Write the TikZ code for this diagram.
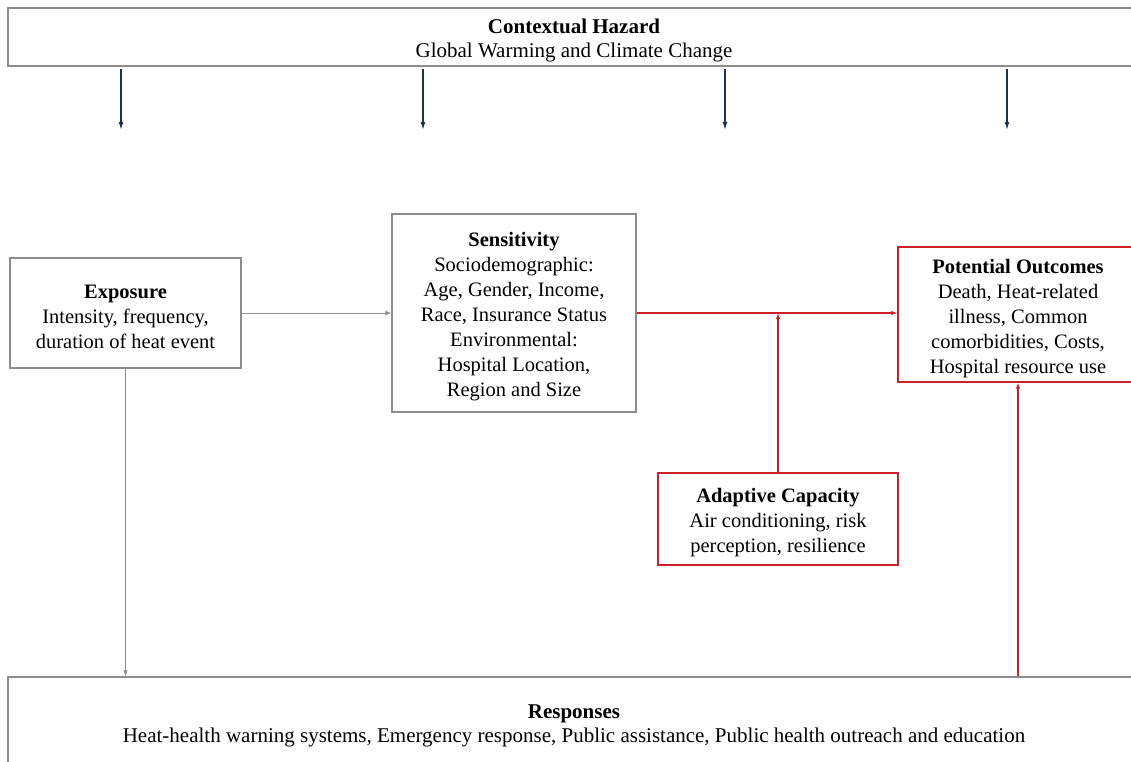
\documentclass[tikz,border=0pt]{standalone}
\usepackage{fontspec}
\setmainfont{Liberation Serif}
\usepackage{tikz}
\usetikzlibrary{arrows.meta,positioning}
\definecolor{boxgray}{RGB}{140,140,140}
\definecolor{linkred}{RGB}{206,32,41}
\definecolor{navy}{RGB}{31,48,80}
\newcommand{\boxtitle}[1]{\rule{0pt}{22pt}\textbf{#1}}

\begin{document}
\begin{tikzpicture}[x=1pt,y=1pt,
  box/.style={draw=boxgray,line width=1.2pt,align=center,inner sep=0pt,font=\fontsize{20.5}{25}\selectfont},
  widebox/.style={box,font=\fontsize{21}{24}\selectfont},
  redbox/.style={box,draw=linkred},
  arr/.style={-{Latex[length=6pt,width=4.5pt]},line width=0.8pt,draw=boxgray,fill=black},
  redarr/.style={-{Latex[length=6pt,width=4.5pt]},line width=1.4pt,draw=linkred,fill=linkred},
  hazarr/.style={-{Latex[length=8pt,width=5pt]},line width=1.4pt,draw=navy}]
\useasboundingbox (0,0) rectangle (1131,-761);
\node[widebox,minimum width=1132,minimum height=58] (hazard) at (574,-37) {\boxtitle{Contextual Hazard}\\Global Warming and Climate Change};
\node[box,minimum width=231,minimum height=110] (expo) at (125.5,-313) {\boxtitle{Exposure}\\Intensity, frequency,\\duration of heat event};
\node[box,minimum width=244,minimum height=198] (sens) at (514,-313) {\boxtitle{Sensitivity}\\Sociodemographic:\\Age, Gender, Income,\\Race, Insurance Status\\Environmental:\\Hospital Location,\\Region and Size};
\node[redbox,minimum width=240,minimum height=135] (outc) at (1018,-314.5) {\boxtitle{Potential Outcomes}\\Death, Heat-related\\illness, Common\\comorbidities, Costs,\\Hospital resource use};
\node[redbox,minimum width=240,minimum height=92] (adapt) at (778,-519) {\boxtitle{Adaptive Capacity}\\Air conditioning, risk\\perception, resilience};
\node[widebox,minimum width=1132,minimum height=90] (resp) at (574,-722) {\boxtitle{Responses}\\Heat-health warning systems, Emergency response, Public assistance, Public health outreach and education};
% hazard arrows
\foreach \x/\n in {121/a,423/b,725/c,1007/d}{
  \coordinate (h\n) at (\x,-130);
  \draw[hazarr] (hazard.south -| h\n) ++(0,-2) -- (h\n);
}
\draw[arr] (sens.west -| expo.east)--(sens.west);
\draw[arr] (expo.south)--(expo.south |- resp.north);
\draw[redarr] (sens.east)--(sens.east -| outc.west);
\draw[redarr] (adapt.north)--(adapt.north |- sens.east);
\draw[redarr] (resp.north -| outc.south)--(outc.south);
\end{tikzpicture}
\end{document}
